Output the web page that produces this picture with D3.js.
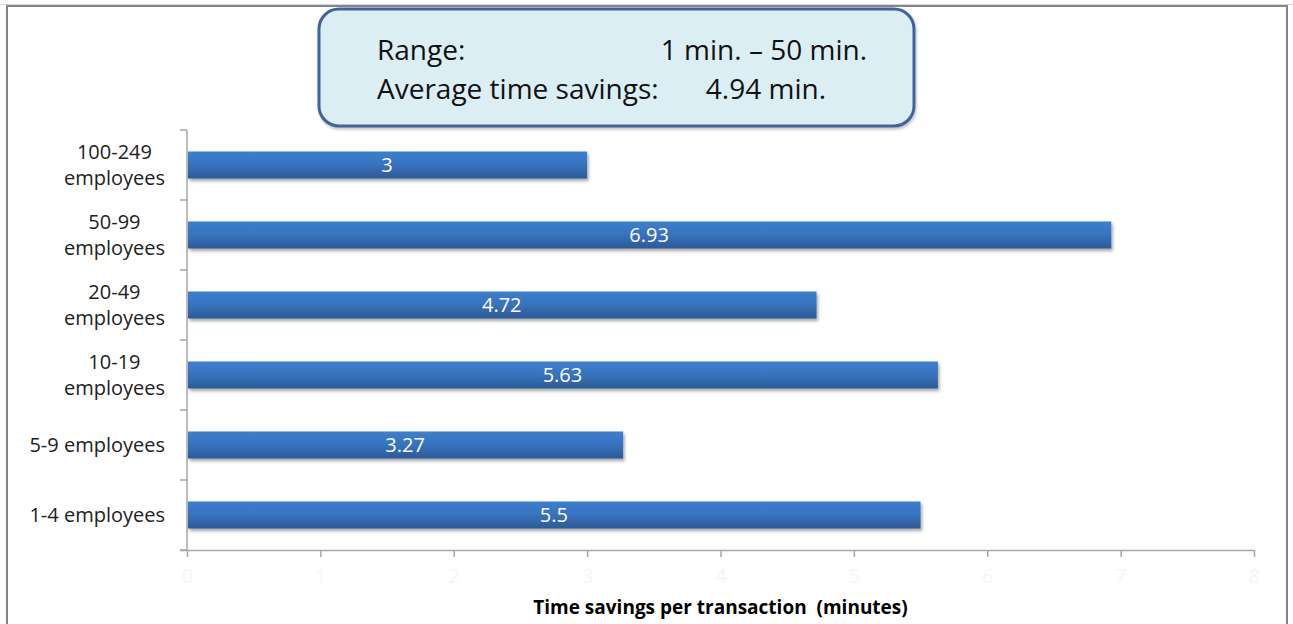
<!DOCTYPE html>
<html><head><meta charset="utf-8">
<script src="https://cdn.jsdelivr.net/npm/d3@7"></script>
<style>
html,body{margin:0;padding:0;background:#fff;}
svg{display:block;font-family:"Open Sans",Lato,sans-serif;}
</style></head>
<body>
<svg id="c" width="1293" height="624"></svg>
<script>
const categories = ["100-249 employees","50-99 employees","20-49 employees","10-19 employees","5-9 employees","1-4 employees"];
const categoryLines = [["100-249","employees"],["50-99","employees"],["20-49","employees"],["10-19","employees"],["5-9 employees"],["1-4 employees"]];
const values = [3, 6.93, 4.72, 5.63, 3.27, 5.5];
const xTicks = [0,1,2,3,4,5,6,7,8];
const xTitle = "Time savings per transaction  (minutes)";
const boxRows = [["Range:","1 min. \u2013 50 min."],["Average time savings:","4.94 min."]];

const svg = d3.select("#c");
const defs = svg.append("defs");
const g = defs.append("linearGradient").attr("id","barg").attr("x1",0).attr("y1",0).attr("x2",0).attr("y2",1);
g.append("stop").attr("offset","0%").attr("stop-color","#3c7ecf");
g.append("stop").attr("offset","45%").attr("stop-color","#3874c0");
g.append("stop").attr("offset","100%").attr("stop-color","#2c5a96");
const f = defs.append("filter").attr("id","sh").attr("x","-5%").attr("y","-30%").attr("width","110%").attr("height","180%");
f.append("feDropShadow").attr("dx",1.5).attr("dy",2.5).attr("stdDeviation",1.8).attr("flood-color","#000").attr("flood-opacity",0.35);
const f2 = defs.append("filter").attr("id","sh2").attr("x","-5%").attr("y","-10%").attr("width","110%").attr("height","130%");
f2.append("feDropShadow").attr("dx",1).attr("dy",2).attr("stdDeviation",1.5).attr("flood-color","#000").attr("flood-opacity",0.25);

// outer frame
svg.append("line").attr("x1",0).attr("x2",1293).attr("y1",4.5).attr("y2",4.5).attr("stroke","#d8d8d8").attr("stroke-width",1);
svg.append("rect").attr("x",7).attr("y",6).attr("width",1280).attr("height",640)
  .attr("fill","#fff").attr("stroke","#858585").attr("stroke-width",2);

const x = d3.scaleLinear().domain([0,8]).range([187,1254]);
const y = d3.scaleBand().domain(categories).range([130,550]).paddingInner(0.614).paddingOuter(0.307);

// y axis
const yAxis = svg.append("g").attr("transform","translate(187,0)");
yAxis.append("line").attr("x1",0).attr("x2",0).attr("y1",130).attr("y2",550).attr("stroke","#a6a6a6").attr("stroke-width",1.5);
const bandStep = y.step();
d3.range(categories.length+1).forEach(i=>{
  const yy = 130 + i*bandStep;
  yAxis.append("line").attr("x1",-7).attr("x2",0).attr("y1",yy).attr("y2",yy).attr("stroke","#a6a6a6").attr("stroke-width",1.5);
});

// x axis
const xa = svg.append("g").attr("transform","translate(0,550)")
  .call(d3.axisBottom(x).tickValues(xTicks).tickSize(7).tickSizeOuter(0).tickPadding(12));
xa.select(".domain").attr("stroke","#a6a6a6").attr("stroke-width",1.5).attr("d","M180,0.5H1254");
xa.selectAll(".tick line").attr("stroke","#a6a6a6").attr("stroke-width",1.5);
xa.selectAll(".tick text").attr("fill","#f6f6f6").attr("font-size",20).attr("font-family","'Open Sans',sans-serif");

// bars
svg.append("g").selectAll("rect").data(values).join("rect")
  .attr("x",x(0)+1).attr("y",(d,i)=>y(categories[i]))
  .attr("width",d=>x(d)-x(0)-1).attr("height",y.bandwidth())
  .attr("fill","url(#barg)").attr("filter","url(#sh)");

svg.append("g").selectAll("text").data(values).join("text")
  .attr("x",d=>(x(0)+x(d))/2).attr("y",(d,i)=>y(categories[i])+y.bandwidth()/2+7)
  .attr("text-anchor","middle").attr("fill","#fff").attr("font-size",20)
  .text(d=>d);

// category labels
const labG = svg.append("g");
categoryLines.forEach((lines,i)=>{
  const cy = y(categories[i]) + y.bandwidth()/2;
  const t = labG.append("text").attr("font-size",20).attr("fill","#222");
  const n = lines.length;
  lines.forEach((ln,j)=>{
    t.append("tspan").attr("y", cy + 7 + (j-(n-1)/2)*26).text(ln);
  });
  const ts = t.selectAll("tspan").nodes();
  const w = d3.max(ts, n=>n.getComputedTextLength());
  t.selectAll("tspan").attr("x",165 - w/2).attr("text-anchor","middle");
});

// axis title
svg.append("text").attr("x",(x(0)+x(8))/2).attr("y",614).attr("text-anchor","middle")
  .style("white-space","pre")
  .attr("font-size",19).attr("font-weight","bold").attr("fill","#000").text(xTitle);

// info box
svg.append("rect").attr("x",319).attr("y",9).attr("width",595).attr("height",117).attr("rx",20).attr("ry",20)
  .attr("fill","#dbeef4").attr("stroke","#40649a").attr("stroke-width",3).attr("filter","url(#sh2)");
boxRows.forEach((r,i)=>{
  const yy = 60 + i*39;
  svg.append("text").attr("x",377).attr("y",yy).attr("font-size",28).attr("fill","#111").text(r[0]);
  svg.append("text").attr("x", i===0 ? 867 : 826).attr("y",yy).attr("text-anchor","end").attr("font-size",28).attr("fill","#111").text(r[1]);
});
</script>
</body></html>
